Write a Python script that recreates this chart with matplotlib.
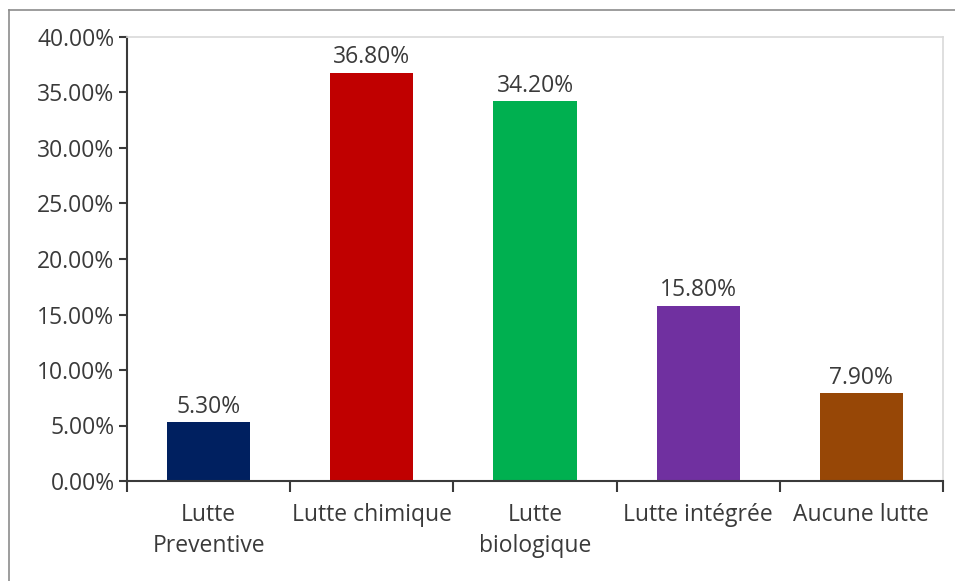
import matplotlib.pyplot as plt
from matplotlib.lines import Line2D
from matplotlib.ticker import FuncFormatter

categories = ['Lutte\nPreventive', 'Lutte chimique', 'Lutte\nbiologique', 'Lutte intégrée', 'Aucune lutte']
values = [5.30, 36.80, 34.20, 15.80, 7.90]
colors = ['#002060', '#C00000', '#00B050', '#7030A0', '#974706']

plt.rcParams['font.family'] = ['Open Sans', 'DejaVu Sans']
txt = '#3a3a3a'
fs = 16.5

fig = plt.figure(figsize=(9.55, 5.81), dpi=100)
ax = fig.add_axes([127 / 955, 100 / 581, (943 - 127) / 955, (481 - 37) / 581])

x = list(range(len(categories)))
bars = ax.bar(x, values, width=0.51, color=colors)
for b, v in zip(bars, values):
    ax.text(b.get_x() + b.get_width() / 2, v + 0.3, f'{v:.2f}%',
            ha='center', va='bottom', fontsize=fs, color=txt)

ax.set_xlim(-0.5, len(categories) - 0.5)
ax.set_ylim(0, 40)
ax.set_yticks(range(0, 41, 5))
ax.yaxis.set_major_formatter(FuncFormatter(lambda v, p: f'{v:.2f}%'))

ax.set_xticks(x)
ax.set_xticklabels(categories, linespacing=1.4)
ax.set_xticks([i - 0.5 for i in range(len(categories) + 1)], minor=True)
ax.tick_params(axis='x', which='major', length=0, pad=16, labelsize=fs, labelcolor=txt)
ax.tick_params(axis='x', which='minor', length=8, width=1.5, color=txt, direction='out')
ax.tick_params(axis='y', length=6, width=1.5, color=txt, pad=3, labelsize=fs, labelcolor=txt)

for s in ['left', 'bottom']:
    ax.spines[s].set_color(txt)
    ax.spines[s].set_linewidth(1.5)
for s in ['top', 'right']:
    ax.spines[s].set_color('#d9d9d9')
    ax.spines[s].set_linewidth(1.2)

# outer chart border (top and left edges visible)
fig.add_artist(Line2D([9 / 955, 9 / 955], [0, 1 - 10 / 581], transform=fig.transFigure, color='#8c8c8c', lw=1.2))
fig.add_artist(Line2D([9 / 955, 1], [1 - 10 / 581, 1 - 10 / 581], transform=fig.transFigure, color='#8c8c8c', lw=1.2))

fig.savefig('out.png', dpi=100)
